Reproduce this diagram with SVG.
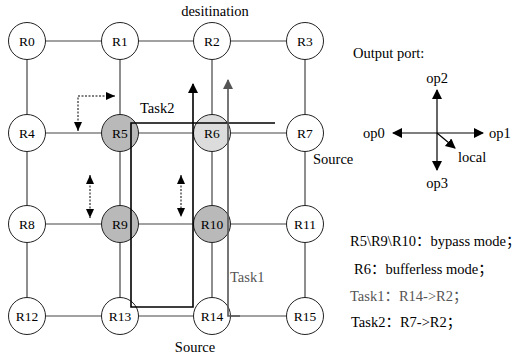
<svg xmlns="http://www.w3.org/2000/svg" width="522" height="358" viewBox="0 0 522 358">
<defs>
<style>
.n circle{stroke:#222;stroke-width:1}
.n text{font-size:13.5px;text-anchor:middle}
.g{stroke:#444;stroke-width:1.2;fill:none}
.lbl{font-size:14.5px}
.gr{fill:#555}
</style>
<marker id="ab" markerWidth="10" markerHeight="12" refX="9" refY="5" orient="auto" markerUnits="userSpaceOnUse"><path d="M0,0L10,5L0,10z" fill="#000"/></marker>
<marker id="ag" markerWidth="10" markerHeight="12" refX="9" refY="5" orient="auto" markerUnits="userSpaceOnUse"><path d="M0,0L10,5L0,10z" fill="#555"/></marker>
<marker id="as" markerWidth="10" markerHeight="12" refX="9" refY="4" orient="auto-start-reverse" markerUnits="userSpaceOnUse"><path d="M0,0L9,4L0,8z" fill="#000"/></marker>
</defs>
<rect width="522" height="358" fill="#fff"/>
<g font-family="Liberation Serif, Noto Sans CJK SC, serif">
<g id="connectors">
<g class="g">
<path d="M27,41H305M27,133H305M27,224H305M27,316H305"/>
<path d="M27,41V316M120,41V316M212,41V316M305,41V316"/>
</g>
<path d="M78,131V96H115" fill="none" stroke="#000" stroke-width="1" stroke-dasharray="2,1.5" marker-start="url(#as)" marker-end="url(#as)"/>
<path d="M90,175V218" fill="none" stroke="#000" stroke-width="1" stroke-dasharray="2,1.5" marker-start="url(#as)" marker-end="url(#as)"/>
<path d="M181,175V217" fill="none" stroke="#000" stroke-width="1" stroke-dasharray="2,1.5" marker-start="url(#as)" marker-end="url(#as)"/>
<g stroke="#000" stroke-width="1.2" fill="none">
<path d="M437,133V90" marker-end="url(#ab)"/>
<path d="M437,133V170" marker-end="url(#ab)"/>
<path d="M437,133H393" marker-end="url(#ab)"/>
<path d="M437,133H483" marker-end="url(#ab)"/>
<path d="M437,133L455,148" marker-end="url(#ab)"/>
</g>
</g>
<g id="R0" class="n"><circle cx="27" cy="41" r="18.5" fill="#fff"/><text x="27" y="45.5">R0</text></g>
<g id="R1" class="n"><circle cx="120" cy="41" r="18.5" fill="#fff"/><text x="120" y="45.5">R1</text></g>
<g id="R2" class="n"><circle cx="212" cy="41" r="18.5" fill="#fff"/><text x="212" y="45.5">R2</text></g>
<g id="R3" class="n"><circle cx="305" cy="41" r="18.5" fill="#fff"/><text x="305" y="45.5">R3</text></g>
<g id="R4" class="n"><circle cx="27" cy="133" r="18.5" fill="#fff"/><text x="27" y="137.5">R4</text></g>
<g id="R5" class="n"><circle cx="120" cy="133" r="18.5" fill="#b9b9b9"/><text x="120" y="137.5">R5</text></g>
<g id="R6" class="n"><circle cx="212" cy="133" r="18.5" fill="#dcdcdc"/><text x="212" y="137.5">R6</text></g>
<g id="R7" class="n"><circle cx="305" cy="133" r="18.5" fill="#fff"/><text x="305" y="137.5">R7</text></g>
<g id="R8" class="n"><circle cx="27" cy="224" r="18.5" fill="#fff"/><text x="27" y="228.5">R8</text></g>
<g id="R9" class="n"><circle cx="120" cy="224" r="18.5" fill="#b9b9b9"/><text x="120" y="228.5">R9</text></g>
<g id="R10" class="n"><circle cx="212" cy="224" r="18.5" fill="#b9b9b9"/><text x="212" y="228.5">R10</text></g>
<g id="R11" class="n"><circle cx="305" cy="224" r="18.5" fill="#fff"/><text x="305" y="228.5">R11</text></g>
<g id="R12" class="n"><circle cx="27" cy="316" r="18.5" fill="#fff"/><text x="27" y="320.5">R12</text></g>
<g id="R13" class="n"><circle cx="120" cy="316" r="18.5" fill="#fff"/><text x="120" y="320.5">R13</text></g>
<g id="R14" class="n"><circle cx="212" cy="316" r="18.5" fill="#fff"/><text x="212" y="320.5">R14</text></g>
<g id="R15" class="n"><circle cx="305" cy="316" r="18.5" fill="#fff"/><text x="305" y="320.5">R15</text></g>
<g id="task-paths">
<path d="M275,123H131V307H193V84" fill="none" stroke="#000" stroke-width="1.6" marker-end="url(#ab)"/>
<path d="M240,316H228V80" fill="none" stroke="#555" stroke-width="1.6" marker-end="url(#ag)"/>
</g>
<g id="labels">
<text class="lbl" x="215" y="16" text-anchor="middle">desitination</text>
<text class="lbl" x="140" y="113">Task2</text>
<text class="lbl" x="313" y="164">Source</text>
<text class="lbl" x="195" y="352" text-anchor="middle">Source</text>
<text class="lbl gr" x="230" y="282">Task1</text>
<text class="lbl" x="353" y="58">Output port:</text>
<text class="lbl" x="437" y="83" text-anchor="middle">op2</text>
<text class="lbl" x="363" y="138">op0</text>
<text class="lbl" x="489" y="138">op1</text>
<text class="lbl" x="458" y="162">local</text>
<text class="lbl" x="437" y="188" text-anchor="middle">op3</text>
<text class="lbl" x="350" y="246">R5\R9\R10：bypass mode；</text>
<text class="lbl" x="354" y="274">R6：bufferless mode；</text>
<text class="lbl gr" x="350" y="301">Task1：R14-&gt;R2；</text>
<text class="lbl" x="351" y="327">Task2：R7-&gt;R2；</text>
</g>
</g>
</svg>
